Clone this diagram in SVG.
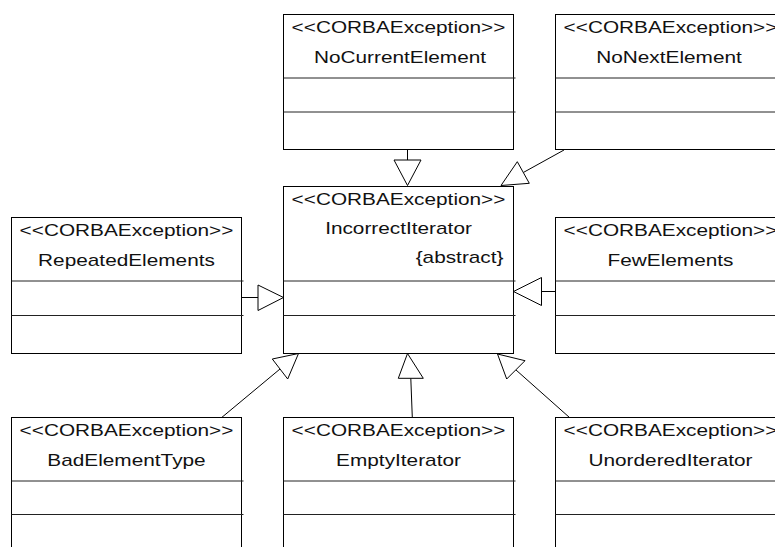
<svg xmlns="http://www.w3.org/2000/svg" width="775" height="547" viewBox="0 0 775 547">
  <style>
    .box { fill: #ffffff; stroke: #000000; stroke-width: 1; }
    .div { stroke: #222222; stroke-width: 1; fill: none; }
    .txt { font-family: "Liberation Sans", Arial, sans-serif; font-size: 16px; fill: #111111; text-anchor: middle; }
    .end { text-anchor: end; }
    .edge { stroke: #000000; stroke-width: 1; fill: none; }
    .head { fill: #ffffff; stroke: #000000; stroke-width: 1; stroke-linejoin: miter; }
  </style>
  <rect width="775" height="547" fill="#ffffff"/>

  <!-- generalization connectors -->
  <g id="connectors">
    <line class="edge" x1="407.5" y1="149.5" x2="407.5" y2="160"/>
    <polygon class="head" points="394,160 421,160 407.5,185.5"/>

    <line class="edge" x1="564" y1="150" x2="523.3" y2="172.5"/>
    <polygon class="head" points="501,185.5 517.3,161.7 529.3,183.3"/>

    <line class="edge" x1="242" y1="297.5" x2="258" y2="297.5"/>
    <polygon class="head" points="258,285 258,310.5 283.5,297.5"/>

    <line class="edge" x1="555" y1="291.5" x2="541.5" y2="291.5"/>
    <polygon class="head" points="541.5,277.5 541.5,305.5 513.5,291.5"/>

    <line class="edge" x1="221.7" y1="417.5" x2="280" y2="369"/>
    <polygon class="head" points="298.5,353.5 272.3,359 287.7,379"/>

    <line class="edge" x1="412.3" y1="417.5" x2="410.8" y2="378.3"/>
    <polygon class="head" points="407.5,353.5 398.3,378.3 423.3,378.3"/>

    <line class="edge" x1="569.5" y1="417.5" x2="515.8" y2="369.8"/>
    <polygon class="head" points="497.5,354 525,360.7 506.7,379"/>
  </g>

  <g id="NoCurrentElement">
    <rect class="box" x="283.5" y="14.5" width="230" height="135"/>
    <line class="div" x1="283.5" y1="78" x2="515.5" y2="78"/>
    <line class="div" x1="283.5" y1="112" x2="515.5" y2="112"/>
    <text class="txt" transform="matrix(1.3 0 0 1 398.5 33)">&lt;&lt;CORBAException&gt;&gt;</text>
    <text class="txt" transform="matrix(1.3 0 0 1 400 62.5)">NoCurrentElement</text>
  </g>

  <g id="NoNextElement">
    <rect class="box" x="555.5" y="14.5" width="230" height="135"/>
    <line class="div" x1="555.5" y1="78" x2="787" y2="78"/>
    <line class="div" x1="555.5" y1="112" x2="787" y2="112"/>
    <text class="txt" transform="matrix(1.3 0 0 1 670.5 33)">&lt;&lt;CORBAException&gt;&gt;</text>
    <text class="txt" transform="matrix(1.3 0 0 1 669 62.5)">NoNextElement</text>
  </g>

  <g id="RepeatedElements">
    <rect class="box" x="11.5" y="217.5" width="230" height="136"/>
    <line class="div" x1="11.5" y1="281" x2="243.5" y2="281"/>
    <line class="div" x1="11.5" y1="315.5" x2="243.5" y2="315.5"/>
    <text class="txt" transform="matrix(1.3 0 0 1 126.5 235.5)">&lt;&lt;CORBAException&gt;&gt;</text>
    <text class="txt" transform="matrix(1.3 0 0 1 126.5 265.5)">RepeatedElements</text>
  </g>

  <g id="IncorrectIterator">
    <rect class="box" x="283.5" y="186.5" width="230" height="167"/>
    <line class="div" x1="283.5" y1="281" x2="515.5" y2="281"/>
    <line class="div" x1="283.5" y1="315.5" x2="515.5" y2="315.5"/>
    <text class="txt" transform="matrix(1.3 0 0 1 398.5 204.5)">&lt;&lt;CORBAException&gt;&gt;</text>
    <text class="txt" transform="matrix(1.3 0 0 1 398.5 233.5)">IncorrectIterator</text>
    <text class="txt end" transform="matrix(1.3 0 0 1 503.5 262.5)">{abstract}</text>
  </g>

  <g id="FewElements">
    <rect class="box" x="555.5" y="217.5" width="230" height="136"/>
    <line class="div" x1="555.5" y1="281" x2="787" y2="281"/>
    <line class="div" x1="555.5" y1="315.5" x2="787" y2="315.5"/>
    <text class="txt" transform="matrix(1.3 0 0 1 670.5 235.5)">&lt;&lt;CORBAException&gt;&gt;</text>
    <text class="txt" transform="matrix(1.3 0 0 1 670.5 265.5)">FewElements</text>
  </g>

  <g id="BadElementType">
    <rect class="box" x="11.5" y="417.5" width="230" height="140"/>
    <line class="div" x1="11.5" y1="481" x2="243.5" y2="481"/>
    <line class="div" x1="11.5" y1="514.5" x2="243.5" y2="514.5"/>
    <text class="txt" transform="matrix(1.3 0 0 1 126.5 435.5)">&lt;&lt;CORBAException&gt;&gt;</text>
    <text class="txt" transform="matrix(1.3 0 0 1 126.5 465.5)">BadElementType</text>
  </g>

  <g id="EmptyIterator">
    <rect class="box" x="283.5" y="417.5" width="230" height="140"/>
    <line class="div" x1="283.5" y1="481" x2="515.5" y2="481"/>
    <line class="div" x1="283.5" y1="514.5" x2="515.5" y2="514.5"/>
    <text class="txt" transform="matrix(1.3 0 0 1 398.5 435.5)">&lt;&lt;CORBAException&gt;&gt;</text>
    <text class="txt" transform="matrix(1.3 0 0 1 398.5 465.5)">EmptyIterator</text>
  </g>

  <g id="UnorderedIterator">
    <rect class="box" x="555.5" y="417.5" width="230" height="140"/>
    <line class="div" x1="555.5" y1="481" x2="787" y2="481"/>
    <line class="div" x1="555.5" y1="514.5" x2="787" y2="514.5"/>
    <text class="txt" transform="matrix(1.3 0 0 1 670.5 435.5)">&lt;&lt;CORBAException&gt;&gt;</text>
    <text class="txt" transform="matrix(1.3 0 0 1 670.5 465.5)">UnorderedIterator</text>
  </g>
</svg>
